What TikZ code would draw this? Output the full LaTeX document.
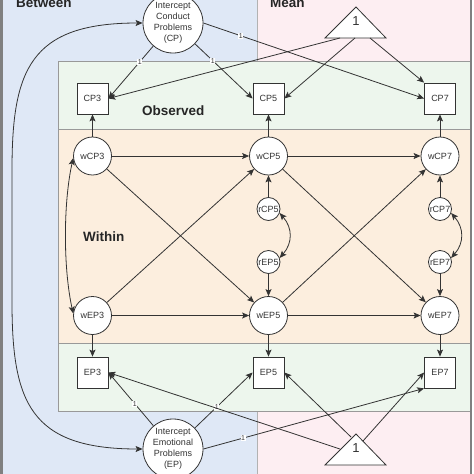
\documentclass[tikz,border=0pt]{standalone}
\usepackage{fontspec}
\setmainfont{Liberation Sans}
\usetikzlibrary{arrows.meta}

\definecolor{betweenblue}{RGB}{223,232,246}
\definecolor{meanpink}{RGB}{253,238,242}
\definecolor{obsgreen}{RGB}{237,246,237}
\definecolor{withinorange}{RGB}{252,238,222}
\definecolor{edgegray}{RGB}{51,51,51}

\tikzset{
  obsbox/.style={draw=edgegray, fill=white, line width=0.8pt, minimum size=31pt, inner sep=0pt, text=edgegray, font=\fontsize{9}{11}\selectfont},
  wlat/.style={circle, draw=edgegray, fill=white, line width=0.8pt, minimum size=38pt, inner sep=0pt, text=edgegray, font=\fontsize{9}{11}\selectfont},
  rlat/.style={wlat, minimum size=23pt},
  intlat/.style={wlat, minimum size=60pt, align=center},
  lane/.style={font=\bfseries\fontsize{13.5}{15}\selectfont, text=black!85, inner sep=0pt},
  one/.style={fill=white, inner sep=0.6pt, text=edgegray, font=\fontsize{7}{8}\selectfont},
  conn/.style={->, draw=edgegray, line width=0.8pt},
  dconn/.style={<->, draw=edgegray, line width=0.8pt},
  tri/.style={draw=edgegray, fill=white, line width=0.8pt}
}

\begin{document}
\begin{tikzpicture}[x=1pt, y=-1pt, >={Stealth[length=7pt,width=6pt,inset=1.5pt]}]
          \useasboundingbox (0,0) rectangle (474,474);
          \fill[white] (0,0) rectangle (474,474);

          % swimlanes
          \filldraw[fill=betweenblue, draw=gray!60] (2,-2) rectangle (257,476);
          \filldraw[fill=meanpink, draw=gray!60] (257,-2) rectangle (471,476);
          \filldraw[fill=obsgreen, draw=gray!80] (58,61) rectangle (471,129);
          \filldraw[fill=withinorange, draw=gray!80] (58,129) rectangle (471,343);
          \filldraw[fill=obsgreen, draw=gray!80] (58,343) rectangle (471,411);
          \draw[line width=2.5pt, color=gray] (1.25,-2) -- (1.25,476);
          \draw[line width=1.2pt, color=gray] (471,-2) -- (471,476);

          \node[lane, anchor=base west] (between) at (16,7) {Between};
          \node[lane, anchor=base west] (mean) at (270,7) {Mean};
          \node[lane, anchor=base west] (observed) at (142,115) {Observed};
          \node[lane, anchor=base west] (within) at (83,241) {Within};

          % intercepts and means
          \node[intlat] (intCP) at (173,23) {Intercept\\Conduct\\Problems\\(CP)};
          \node[intlat] (intEP) at (173,449) {Intercept\\Emotional\\Problems\\(EP)};

          \draw[tri] (356,7) -- (386,38) -- (325,38) -- cycle;
          \node[font=\fontsize{13}{15}\selectfont, text=edgegray] (topOne) at (356,21.5) {1};
          \coordinate (topA) at (340,38);
          \coordinate (topB) at (355,38);
          \coordinate (topC) at (370,38);

          \draw[tri] (356,434) -- (386,465) -- (325,465) -- cycle;
          \node[font=\fontsize{13}{15}\selectfont, text=edgegray] (botOne) at (356,448) {1};
          \coordinate (botA) at (340,449);
          \coordinate (botB) at (351,437);
          \coordinate (botC) at (363,441);

          % observed and latent
          \foreach \t/\x in {3/92.5, 5/268.5, 7/440} {
            \node[obsbox] (CP\t) at (\x,98.5) {CP\t};
            \node[obsbox] (EP\t) at (\x,372.5) {EP\t};
            \node[wlat] (wCP\t) at (\x,156) {wCP\t};
            \node[wlat] (wEP\t) at (\x,315.5) {wEP\t};
          }
          \foreach \t/\x in {5/268.5, 7/440} {
            \node[rlat] (rCP\t) at (\x,209) {rCP\t};
            \node[rlat] (rEP\t) at (\x,262) {rEP\t};
          }

          \draw[conn] (intCP) -- node[one, pos=0.3] {1} (CP3.east);
          \draw[conn] (intCP) -- node[one, pos=0.31] {1} (CP5.west);
          \draw[conn] (intCP.east) -- node[one, pos=0.17] {1} (CP7.west);
          \draw[conn] (topA) -- (CP3.east);
          \draw[conn] (topB) -- (CP5.east);
          \draw[conn] (topC) -- (CP7.north west);

          \draw[conn] (intEP) -- node[one, pos=0.41] {1} (EP3.east);
          \draw[conn] (intEP) -- node[one, pos=0.38] {1} (EP5.west);
          \draw[conn] (intEP.east) -- node[one, pos=0.18] {1} (EP7.south west);
          \draw[conn] (botA) -- (EP3.east);
          \draw[conn] (botB) -- (EP5.east);
          \draw[conn] (botC) -- (EP7.west);

          \draw[dconn] (intCP.west) .. controls (30,23) and (12,70) .. (12,170) -- (12,302) .. controls (12,402) and (30,449) .. (intEP.west);

          \foreach \t in {3,5,7} {
            \draw[conn] (wCP\t) -- (CP\t);
            \draw[conn] (wEP\t) -- (EP\t);
          }
          \draw[conn] (wCP3) -- (wCP5);
          \draw[conn] (wCP5) -- (wCP7);
          \draw[conn] (wEP3) -- (wEP5);
          \draw[conn] (wEP5) -- (wEP7);
          \draw[conn] (wCP3) -- (wEP5);
          \draw[conn] (wEP3) -- (wCP5);
          \draw[conn] (wCP5) -- (wEP7);
          \draw[conn] (wEP5) -- (wCP7);
          \draw[dconn] (wCP3.186) .. controls +(-10,45) and +(-10,-45) .. (wEP3.174);

          \foreach \t in {5,7} {
            \draw[conn] (rCP\t) -- (wCP\t);
            \draw[conn] (rEP\t) -- (wEP\t);
            \draw[dconn] (rCP\t.-20) .. controls +(13,15) and +(13,-15) .. (rEP\t.20);
          }

        \end{tikzpicture}
\end{document}
